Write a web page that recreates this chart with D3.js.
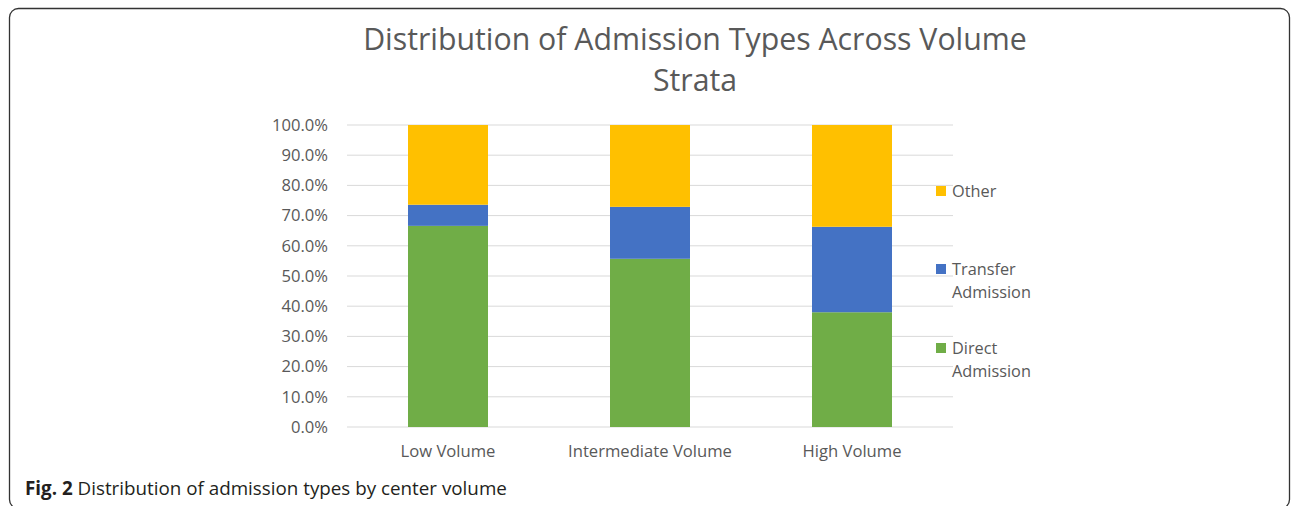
<!DOCTYPE html>
<html>
<head>
<meta charset="utf-8">
<script src="https://cdn.jsdelivr.net/npm/d3@7"></script>
<style>
  html, body { margin: 0; padding: 0; background: #fff; }
  svg { display: block; }
</style>
</head>
<body>
<svg id="chart" width="1292" height="506"></svg>
<script>
// ---- data ----
const categories = ["Low Volume", "Intermediate Volume", "High Volume"];
const seriesNames = ["Direct Admission", "Transfer Admission", "Other"];
const directAdmission = [66.6, 55.7, 38.0];
const transferAdmission = [7.0, 17.2, 28.3];
const other = [26.4, 27.1, 33.7];
const yTicks = [0, 10, 20, 30, 40, 50, 60, 70, 80, 90, 100];
const legendLabels = [["Other"], ["Transfer", "Admission"], ["Direct", "Admission"]];

const colors = { "Direct Admission": "#70ad47", "Transfer Admission": "#4472c4", "Other": "#ffc000" };

const rows = categories.map((c, i) => ({
  cat: c,
  "Direct Admission": directAdmission[i],
  "Transfer Admission": transferAdmission[i],
  "Other": other[i]
}));

const svg = d3.select("#chart");
const FONT = "'Open Sans', 'Noto Sans', sans-serif";
const GREY = "#595959";

function fitSize(text, targetW, weight) {
  const t = svg.append("text").attr("font-family", FONT).attr("font-size", 100)
    .attr("font-weight", weight || "normal").text(text);
  const w = t.node().getComputedTextLength();
  t.remove();
  return 100 * targetW / w;
}

// frame
svg.append("rect").attr("x", 9.5).attr("y", 8.5).attr("width", 1280).attr("height", 500)
  .attr("rx", 9).attr("ry", 9).attr("fill", "none").attr("stroke", "#333").attr("stroke-width", 1.3);

// scales
const plot = { left: 347, right: 953, top: 125, bottom: 427 };
const x = d3.scaleBand().domain(categories).range([plot.left, plot.right])
  .paddingInner(0.604).paddingOuter(0.302);
const y = d3.scaleLinear().domain([0, 100]).range([plot.bottom, plot.top]);

// gridlines
svg.append("g").selectAll("line").data(yTicks).join("line")
  .attr("x1", plot.left).attr("x2", plot.right)
  .attr("y1", d => y(d)).attr("y2", d => y(d))
  .attr("stroke", "#d9d9d9").attr("stroke-width", 1);

// y axis labels
const tickSize = fitSize("100.0%", 56);
const yAxis = d3.axisLeft(y).tickValues(yTicks).tickSize(0).tickPadding(0)
  .tickFormat(d => d3.format(".1f")(d) + "%");
const gy = svg.append("g").attr("transform", `translate(${328},0)`).call(yAxis);
gy.select(".domain").remove();
gy.selectAll("text").attr("font-family", FONT).attr("font-size", tickSize).attr("fill", GREY);

// stacked bars
const stack = d3.stack().keys(seriesNames);
const stacked = stack(rows);
svg.append("g").selectAll("g").data(stacked).join("g")
  .attr("fill", d => colors[d.key])
  .selectAll("rect").data(d => d).join("rect")
  .attr("x", d => x(d.data.cat))
  .attr("width", x.bandwidth())
  .attr("y", d => y(d[1]))
  .attr("height", d => y(d[0]) - y(d[1]));

// x axis labels
const xSize = fitSize("Intermediate Volume", 164);
const xAxis = d3.axisBottom(x).tickSize(0).tickPadding(0);
const gx = svg.append("g").attr("transform", `translate(0,${plot.bottom})`).call(xAxis);
gx.select(".domain").remove();
gx.selectAll("text").attr("font-family", FONT).attr("font-size", xSize).attr("fill", GREY)
  .attr("dy", null).attr("y", 30);

// title
const titleSize = fitSize("Distribution of Admission Types Across Volume", 664);
const title = svg.append("text").attr("x", 695).attr("text-anchor", "middle")
  .attr("font-family", FONT).attr("font-size", titleSize).attr("fill", GREY);
title.append("tspan").attr("x", 695).attr("y", 50).text("Distribution of Admission Types Across Volume");
title.append("tspan").attr("x", 695).attr("y", 91).text("Strata");

// legend
const legendSeries = ["Other", "Transfer Admission", "Direct Admission"];
const legendY = [191, 269, 348];
const legSize = fitSize("Admission", 79);
const lg = svg.append("g");
legendSeries.forEach((s, i) => {
  lg.append("rect").attr("x", 936).attr("y", legendY[i] - 5).attr("width", 10).attr("height", 10)
    .attr("fill", colors[s]);
  legendLabels[i].forEach((line, j) => {
    lg.append("text").attr("x", 952).attr("y", legendY[i] + j * 23)
      .attr("dy", "0.35em").attr("font-family", FONT).attr("font-size", legSize)
      .attr("fill", GREY).text(line);
  });
});

// caption
const capT = svg.append("text").attr("x", 25).attr("y", 495)
  .attr("font-family", FONT).attr("fill", "#231f20");
capT.append("tspan").attr("font-weight", "bold").text("Fig. 2");
capT.append("tspan").text(" Distribution of admission types by center volume");
capT.attr("font-size", 100);
const cw = capT.node().getComputedTextLength();
capT.attr("font-size", 100 * 482 / cw);
</script>
</body>
</html>
